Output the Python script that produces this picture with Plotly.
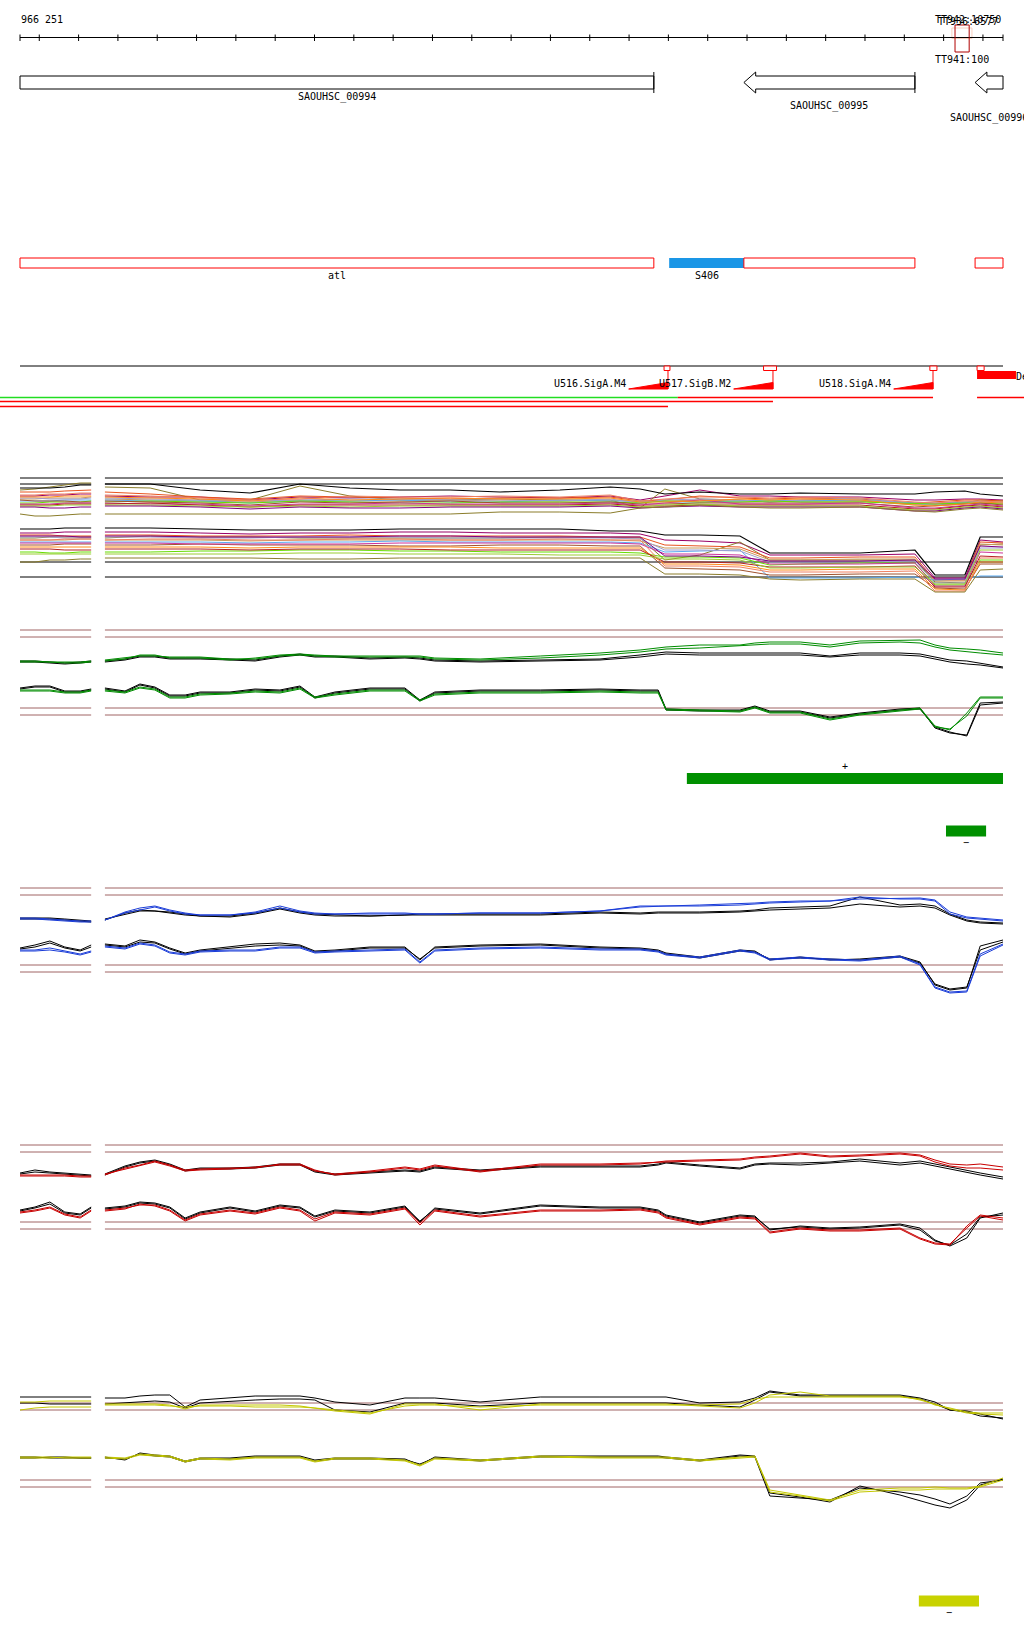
import plotly.graph_objects as go

W, H = 1024, 1640
FONT = "DejaVu Sans Mono"

# ---------------- genome window ----------------
START, END = 966251, 968751
X_LO, X_HI = 966200.135, 968804.41
RULER_LABEL = "966 251"
TICK_POS = [START] + list(range(966300, 968701, 100)) + [END]

TT_LABELS_TOP = ["TT942:10750", "TT936:6577"]
TT_LABEL_BOTTOM = "TT941:100"
TT_BOX = [968629, 968665]
TT_HALO = [968621, 968672]

GENE_NAMES = ["SAOUHSC_00994", "SAOUHSC_00995", "SAOUHSC_00996"]
GENE_START = [965480, 968092, 968680]
GENE_END = [967863, 968527, 969150]

ANNOT_NAMES = ["atl", "S406", "", ""]
ANNOT_START = [965480, 967902, 968092, 968680]
ANNOT_END = [967863, 968092, 968527, 969150]
ANNOT_KIND = ["cds", "srna", "cds", "cds"]

PROM_NAMES = ["U516.SigA.M4", "U517.SigB.M2", "U518.SigA.M4"]
PROM_POS = [967899, 968166, 968573]
PROM_BOX_START = [967889, 968142, 968565, 968685]
PROM_BOX_END = [967904, 968175, 968583, 968703]
BLOCK_NAME = "De"
BLOCK_START, BLOCK_END = 968685, 968784

TX_START = [966100, 967924, 968685, 966100, 966100]
TX_END = [967924, 968573, 969000, 968166, 967899]
TX_ROW = [0, 0, 0, 1, 2]
TX_TYPE = ["A", "B", "B", "B", "B"]

SEG_START = [967947, 968606, 968537]
SEG_END = [968751, 968708, 968690]
SEG_STRAND = ["+", "-", "-"]
SEG_PANEL = ["B", "B", "E"]

# ---------------- expression tracks ----------------
LEFT_POS = [966251, 966289, 966327, 966365, 966404, 966432]
MAIN_POS = [966467, 966518, 966556, 966594, 966632, 966671, 966709, 966785, 966849, 966912,
            966963, 967001, 967052, 967141, 967230, 967268, 967306, 967421, 967574, 967726,
            967828, 967874, 967894, 967980, 968082, 968120, 968158, 968235, 968311, 968387,
            968489, 968540, 968578, 968616, 968659, 968693, 968751]
A_POS = [966467, 966582, 966709, 966836, 966963, 967090, 967217, 967345, 967472, 967624,
         967752, 967828, 967891, 967980, 968082, 968158, 968235, 968387, 968527, 968578,
         968654, 968693, 968751]

# Panel A: many conditions (upper = + strand, lower = - strand)
A_REF = [122, 116, 38, 23]
A_UP = [
    [116,116,110,107,116,112,110,110,108,110,113,111,106,108,106,106,107,106,106,108,109,106,104],
    [104,103,103,100,103,102,103,104,103,102,104,100,104,110,104,104,103,103,100,100,101,101,100],
    [113,112,100,100,114,104,100,100,101,100,100,92,111,101,100,98,99,99,96,96,97,100,99],
    [108,106,103,101,104,103,102,101,102,102,103,99,100,104,102,101,102,101,97,98,100,100,99],
    [101,100,99,98,100,99,99,100,99,99,100,98,99,100,99,99,100,99,95,96,98,99,98],
    [100,99,99,97,99,99,100,98,98,100,99,99,98,98,99,100,99,100,97,97,98,98,97],
    [102,101,100,99,100,101,101,100,100,99,101,97,100,101,100,98,100,102,96,95,97,97,96],
    [98,99,98,97,99,98,97,97,98,98,98,97,99,98,98,99,98,98,96,96,97,97,96],
    [99,98,97,95,98,97,98,99,97,97,98,96,96,97,97,97,97,97,93,94,96,97,95],
    [97,96,96,94,96,96,97,96,96,96,97,95,97,100,96,96,96,97,92,92,95,96,94],
    [103,102,101,99,102,100,101,102,101,101,102,98,98,99,101,100,101,100,95,94,96,98,97],
    [96,97,95,93,95,95,95,95,95,95,96,94,94,95,95,95,95,95,91,91,94,95,93],
    [105,104,102,100,101,104,103,103,104,103,105,99,101,103,103,102,103,102,98,97,99,99,98],
    [95,95,94,93,94,93,94,94,94,94,95,93,95,96,94,94,94,94,90,90,93,94,92],
    [94,94,93,91,93,92,92,93,93,93,94,92,93,94,93,93,93,93,89,89,92,93,91],
    [86,86,86,86,86,86,86,86,88,88,87,92,93,95,93,92,92,93,89,88,91,92,90],
]
A_UP_LEFT = [
    [112,112,112,113,115,115], [104,104,105,105,106,106], [110,111,113,115,117,117],
    [108,108,108,109,110,110], [101,101,102,102,102,103], [99,99,99,100,100,100],
    [102,102,101,101,101,102], [97,97,98,98,98,99], [100,99,99,99,98,98],
    [96,96,96,97,97,97], [103,103,103,104,104,104], [95,95,95,96,96,96],
    [105,105,106,106,107,107], [94,94,94,95,95,95], [93,93,92,92,93,93],
    [86,84,84,85,86,86],
]
A_LO = [
    [72,72,71,70,70,70,71,71,71,71,69,69,65,65,64,47,47,47,50,25,25,63,63],
    [68,68,67,66,67,67,68,68,67,67,67,66,60,59,57,45,45,45,46,22,22,60,58],
    [62,64,63,63,62,62,62,62,62,63,62,62,40,45,58,40,40,40,40,18,17,55,56],
    [65,65,64,64,64,65,64,64,64,64,63,63,55,54,53,42,42,43,43,20,20,58,57],
    [60,60,60,59,60,60,60,60,60,60,60,59,52,52,51,40,40,41,41,19,19,56,55],
    [58,58,58,57,58,58,59,58,58,58,58,57,48,49,50,22,22,22,23,20,21,24,24],
    [63,63,62,62,63,63,63,62,62,62,62,61,50,50,49,38,38,38,39,17,17,52,52],
    [48,48,49,49,50,50,49,49,48,48,48,47,43,43,42,35,36,37,37,15,15,40,40],
    [55,55,56,55,55,55,54,54,55,55,54,54,32,31,30,25,25,26,26,12,11,36,36],
    [57,57,56,56,56,56,57,57,57,57,57,56,46,46,45,36,36,36,37,14,14,48,47],
    [53,53,53,52,53,53,53,53,52,52,52,52,36,36,35,30,30,31,31,11,10,38,38],
    [51,51,51,50,51,51,51,50,50,50,50,50,38,38,37,33,33,33,34,13,13,44,43],
    [60,61,61,60,60,61,61,60,60,61,60,60,34,34,33,28,28,28,29,9,9,42,42],
    [46,46,46,46,47,47,46,46,46,45,45,45,41,41,40,32,32,33,33,16,16,50,50],
    [64,64,63,63,63,63,64,64,63,63,63,63,44,44,43,39,39,39,40,21,21,54,53],
    [42,42,42,42,41,41,42,42,42,42,42,42,26,26,25,21,20,21,21,8,8,30,31],
]
A_LO_LEFT = [
    [71,71,71,72,72,72], [67,67,67,68,68,68], [62,62,63,63,63,63], [65,65,65,64,64,64],
    [60,60,60,60,61,61], [58,58,58,58,58,58], [63,63,63,62,62,62], [48,48,47,47,48,48],
    [55,55,55,56,56,56], [57,57,57,57,57,57], [53,53,53,53,53,53], [51,51,51,50,50,50],
    [60,60,60,61,61,61], [46,46,46,46,46,46], [64,64,64,64,63,63], [38,38,40,40,41,41],
]

# Panel B (green)
B_REF = [110, 103, 32, 25]
B_UP_K1 = [79,81,84,84,82,82,82,81,80,84, 86,84,84,82,83,82,80,79,80,81, 85,87,88,87,87,87,87,87,84,87, 87,86,83,80,79,77,73]
B_UP_K2 = [78,80,83,83,81,81,81,80,79,83, 85,83,83,81,82,81,79,78,79,80, 83,85,86,85,85,85,85,85,83,85, 85,84,81,78,76,75,72]
B_UP_C1 = [79,81,85,85,82,82,82,80,82,85, 86,85,84,84,84,84,82,81,84,87, 90,92,93,95,95,97,98,98,95,99, 100,100,95,92,91,90,87]
B_UP_C2 = [80,82,84,84,83,83,83,81,81,84, 85,84,83,83,83,83,81,80,82,85, 88,90,91,92,94,95,96,96,93,97, 98,97,93,90,88,87,85]
B_LO_K1 = [52,49,56,53,45,45,48,48,51,50, 54,43,48,52,52,40,48,50,50,51, 50,50,31,30,30,34,29,29,23,27, 31,32,12,7,5,37,38]
B_LO_K2 = [51,48,55,52,44,44,47,47,50,49, 53,42,47,51,51,39,47,49,49,50, 49,49,30,29,29,33,28,28,22,26, 30,31,13,8,4,35,37]
B_LO_C1 = [50,48,53,51,43,43,46,47,49,48, 52,43,46,50,50,40,46,48,48,49, 48,48,31,30,29,33,28,28,21,26, 30,32,14,10,27,43,43]
B_LO_C2 = [49,47,52,50,42,42,45,46,48,47, 51,42,45,49,49,39,45,47,47,48, 47,47,30,29,28,32,27,27,20,25, 29,31,13,11,24,42,42]
B_UP_K1_L = [79,79,78,77,78,79]
B_UP_K2_L = [78,78,77,76,77,78]
B_UP_C1_L = [79,79,78,77,77,78]
B_UP_C2_L = [78,78,78,78,78,79]
B_LO_K1_L = [52,54,54,49,49,51]
B_LO_K2_L = [51,53,53,48,48,50]
B_LO_C1_L = [50,50,50,48,48,50]
B_LO_C2_L = [49,49,49,47,47,49]

# Panel C (blue)
C_REF = [112, 105, 35, 28]
C_UP_C1 = [80,88,92,94,90,87,85,85,88,94, 89,87,86,86,86,86,86,87,87,89, 94,94,94,94,95,96,97,98,99,101, 102,102,100,88,83,82,80]
C_UP_C2 = [80,87,90,93,89,86,85,85,87,92, 88,86,86,87,87,86,86,87,87,89, 93,94,94,95,96,97,98,99,99,103, 101,101,99,86,82,81,79]
C_UP_K1 = [80,87,90,89,88,86,84,84,87,92, 88,86,85,84,85,86,86,86,86,88, 87,88,88,88,89,90,92,93,94,103, 95,96,94,86,80,78,77]
C_UP_K2 = [81,86,89,89,87,85,84,83,86,91, 87,85,84,84,85,85,85,85,85,87, 86,87,87,87,88,89,90,91,92,96, 93,94,92,85,79,77,76]
C_LO_K1 = [56,54,60,58,52,47,50,53,56,57, 55,49,50,53,53,40,53,55,56,53, 52,50,47,43,50,49,40,43,40,41, 44,38,15,10,12,54,60]
C_LO_K2 = [55,53,58,57,51,46,49,52,54,55, 54,48,49,52,52,41,52,54,55,52, 51,49,46,42,49,48,41,42,41,40, 43,37,16,11,13,50,58]
C_LO_C1 = [54,52,57,55,48,46,49,50,50,53, 53,48,49,50,51,38,50,52,53,51, 51,49,46,43,50,48,41,43,41,40, 44,36,13,8,9,46,56]
C_LO_C2 = [53,51,56,54,47,45,48,49,49,52, 52,47,48,49,50,37,49,51,52,50, 50,48,45,42,49,47,40,42,40,39, 43,35,12,7,8,44,55]
C_UP_K1_L = [82,82,82,81,80,79]
C_UP_K2_L = [81,81,81,80,79,78]
C_UP_C1_L = [82,82,81,80,79,79]
C_UP_C2_L = [81,81,80,79,78,78]
C_LO_K1_L = [52,55,59,53,50,55]
C_LO_K2_L = [51,53,57,52,49,53]
C_LO_C1_L = [50,50,52,49,46,49]
C_LO_C2_L = [49,49,50,48,45,48]

# Panel D (red)
D_REF = [105, 98, 28, 21]
D_UP_C1 = [75,82,85,89,85,80,81,82,82,86, 86,80,75,78,82,80,84,78,85,85, 86,88,89,90,91,93,94,97,94,95, 97,95,90,86,85,86,83]
D_UP_C2 = [76,81,84,88,84,79,80,81,83,85, 85,79,76,79,83,81,85,79,86,86, 87,88,88,89,90,92,93,96,93,94, 96,94,88,84,82,82,80]
D_UP_K1 = [76,84,88,90,86,80,82,82,83,86, 86,79,76,78,80,79,83,80,84,84, 84,86,88,85,82,86,87,87,88,91, 87,89,86,83,79,77,73]
D_UP_K2 = [75,83,87,89,85,79,81,81,82,85, 85,78,75,77,79,78,82,79,83,83, 83,85,87,84,81,85,86,85,87,89, 85,87,84,81,77,75,71]
D_LO_C1 = [40,42,45,45,40,30,36,40,37,43, 40,31,38,36,42,27,40,34,40,40, 41,38,33,26,33,32,18,22,20,20, 22,12,7,6,22,34,30]
D_LO_C2 = [39,41,46,44,39,29,35,39,36,42, 39,29,37,35,41,25,39,33,39,39, 40,37,32,25,32,31,17,21,19,19, 21,11,6,5,24,35,32]
D_LO_K1 = [42,44,48,47,43,32,38,43,39,45, 43,34,40,38,44,28,42,37,45,43, 43,40,35,28,35,34,20,24,22,23, 26,22,10,4,12,32,37]
D_LO_K2 = [41,43,47,46,42,31,37,42,38,44, 42,33,39,37,43,29,41,36,44,42, 42,39,34,27,34,33,21,23,21,22, 25,20,9,5,16,33,35]
D_UP_K1_L = [77,80,78,77,76,75]
D_UP_K2_L = [76,78,77,76,75,74]
D_UP_C1_L = [75,75,75,75,74,74]
D_UP_C2_L = [74,74,74,74,73,73]
D_LO_K1_L = [40,43,48,38,36,43]
D_LO_K2_L = [39,42,46,37,35,42]
D_LO_C1_L = [38,40,43,36,33,40]
D_LO_C2_L = [37,39,42,35,32,39]

# Panel E (yellow)
E_REF = [107, 100, 30, 23]
E_UP_K1 = [112,112,114,115,115,103,110,112,114,114, 114,112,108,105,112,112,112,108,113,113, 113,113,113,107,108,112,119,115,115,115, 115,112,108,100,99,96,91]
E_UP_K2 = [106,107,108,109,108,102,107,109,110,111, 111,110,100,98,107,107,107,104,107,107, 107,107,107,105,103,110,118,114,114,114, 114,111,106,100,98,94,92]
E_UP_C1 = [106,106,106,106,105,101,105,105,105,105, 104,102,99,96,106,106,106,100,106,106, 106,106,106,104,102,107,115,118,114,114, 114,110,106,101,97,96,95]
E_UP_C2 = [105,105,105,105,104,103,104,104,103,103, 103,102,100,97,104,105,105,103,105,105, 105,105,105,105,106,111,113,113,113,113, 113,111,105,102,98,97,97]
E_LO_C1 = [53,52,56,55,54,49,52,51,53,53, 53,49,52,52,50,45,52,50,54,53, 53,53,53,50,53,54,20,15,10,20, 22,22,23,22,22,24,32]
E_LO_C2 = [52,51,55,54,53,48,51,50,52,52, 52,48,51,51,49,44,51,49,53,52, 52,52,52,49,52,53,18,14,9,18, 20,20,21,21,21,23,30]
E_LO_K1 = [53,50,57,55,54,49,52,52,54,54, 54,50,52,52,51,45,53,50,54,54, 54,54,53,50,55,54,17,13,8,24, 15,9,5,2,10,25,31]
E_LO_K2 = [52,51,56,54,53,48,51,51,53,53, 53,49,51,51,50,46,52,49,53,53, 53,53,52,49,54,53,14,12,10,22, 18,15,11,6,14,27,30]
E_UP_K1_L = [113,113,113,113,113,113]
E_UP_K2_L = [107,107,106,106,106,106]
E_UP_C1_L = [108,108,109,109,109,109]
E_UP_C2_L = [100,102,103,103,103,103]
E_LO_K1_L = [53,53,52,52,52,52]
E_LO_K2_L = [52,52,53,53,52,52]
E_LO_C1_L = [53,53,53,52,52,52]
E_LO_C2_L = [52,52,52,53,53,53]

# ---------------- styles / layout ----------------
A_COLORS = ["#000000", "#990066", "#8b7d2b", "#e8541e", "#c89a5a", "#5aaaf0", "#9f9fcf",
            "#66dd00", "#a0522d", "#cc3399", "#ff8c1a", "#b22222", "#f08060", "#9acd32",
            "#800080", "#8b7d2b"]
PANEL_COLOR = {"B": "#008c00", "C": "#1a3cd8", "D": "#c80000", "E": "#c4c800"}
REF_COLOR = "#a06464"
PANEL_BASE = {"A": 600, "B": 740, "C": 1000, "D": 1250, "E": 1510}
PANEL_SPAN = {"A": 130, "B": 120, "C": 120, "D": 120, "E": 120}
PANEL_AXIS = {"A": "y2", "B": "y3", "C": "y4", "D": "y5", "E": "y6"}

fig = go.Figure()
axes_layout = {}
for key, ax in PANEL_AXIS.items():
    base, span = PANEL_BASE[key], PANEL_SPAN[key]
    axes_layout["yaxis" + ax[1:]] = dict(domain=[1 - base / H, 1 - (base - span) / H],
                                         range=[0, span], visible=False, anchor="x", fixedrange=True)


def line_trace(x, y, axis, color, width=1.0):
    fig.add_trace(go.Scatter(x=x, y=y, mode="lines", xaxis="x", yaxis=axis,
                             line=dict(color=color, width=width), hoverinfo="skip",
                             connectgaps=False, showlegend=False))


def series(axis, left_vals, main_pos, main_vals, color, width=1.0):
    x = list(LEFT_POS) + [None] + list(main_pos)
    y = list(left_vals) + [None] + list(main_vals)
    line_trace(x, y, axis, color, width)


def refs(axis, levels, color):
    for lv in levels:
        line_trace([LEFT_POS[0], LEFT_POS[-1], None, MAIN_POS[0], END], [lv, lv, None, lv, lv],
                   axis, color, 1.0)


# panel A
refs("y2", A_REF, "#000000")
for vals_l, vals, col in zip(A_UP_LEFT[1:], A_UP[1:], A_COLORS[1:]):
    series("y2", vals_l, A_POS, vals, col)
for vals_l, vals, col in zip(A_LO_LEFT[1:], A_LO[1:], A_COLORS[1:]):
    series("y2", vals_l, A_POS, vals, col)
series("y2", A_UP_LEFT[0], A_POS, A_UP[0], A_COLORS[0], 1.2)
series("y2", A_LO_LEFT[0], A_POS, A_LO[0], A_COLORS[0], 1.2)

PANELS = {
    "B": (B_REF, [(B_UP_C1_L, B_UP_C1), (B_UP_C2_L, B_UP_C2), (B_LO_C1_L, B_LO_C1), (B_LO_C2_L, B_LO_C2)],
          [(B_UP_K1_L, B_UP_K1), (B_UP_K2_L, B_UP_K2), (B_LO_K1_L, B_LO_K1), (B_LO_K2_L, B_LO_K2)]),
    "C": (C_REF, [(C_UP_C1_L, C_UP_C1), (C_UP_C2_L, C_UP_C2), (C_LO_C1_L, C_LO_C1), (C_LO_C2_L, C_LO_C2)],
          [(C_UP_K1_L, C_UP_K1), (C_UP_K2_L, C_UP_K2), (C_LO_K1_L, C_LO_K1), (C_LO_K2_L, C_LO_K2)]),
    "D": (D_REF, [(D_UP_C1_L, D_UP_C1), (D_UP_C2_L, D_UP_C2), (D_LO_C1_L, D_LO_C1), (D_LO_C2_L, D_LO_C2)],
          [(D_UP_K1_L, D_UP_K1), (D_UP_K2_L, D_UP_K2), (D_LO_K1_L, D_LO_K1), (D_LO_K2_L, D_LO_K2)]),
    "E": (E_REF, [(E_UP_C1_L, E_UP_C1), (E_UP_C2_L, E_UP_C2), (E_LO_C1_L, E_LO_C1), (E_LO_C2_L, E_LO_C2)],
          [(E_UP_K1_L, E_UP_K1), (E_UP_K2_L, E_UP_K2), (E_LO_K1_L, E_LO_K1), (E_LO_K2_L, E_LO_K2)]),
}
for key, (rlevels, colored, blacks) in PANELS.items():
    ax = PANEL_AXIS[key]
    refs(ax, rlevels, REF_COLOR)
    for lv, mv in blacks:
        line_trace(list(LEFT_POS) + [None] + MAIN_POS, list(lv) + [None] + list(mv), ax, "#000000", 1.0)
    for lv, mv in colored:
        line_trace(list(LEFT_POS) + [None] + MAIN_POS, list(lv) + [None] + list(mv), ax,
                   PANEL_COLOR[key], 1.0)

# ---------------- annotation area (track layout in y) ----------------
shapes = []
annots = []


def text(x, y, s, anchor="center", size=10, color="#000000"):
    annots.append(dict(x=x, y=y, xref="x", yref="y", text=s, showarrow=False,
                       xanchor=anchor, yanchor="middle",
                       font=dict(family=FONT, size=size, color=color)))


# ruler
RULER_Y = 37.5
rx, ry = [START, END, None], [RULER_Y, RULER_Y, None]
for t in TICK_POS:
    rx += [t, t, None]
    ry += [RULER_Y - 3, RULER_Y + 3.5, None]
text(START - 2, 19, RULER_LABEL, anchor="left")

# terminator markers at the top
shapes.append(dict(type="rect", xref="x", yref="y", x0=TT_HALO[0], x1=TT_HALO[1], y0=28, y1=38.5,
                   line=dict(color="#f8d0c0", width=1), fillcolor="rgba(0,0,0,0)", layer="below"))
shapes.append(dict(type="rect", xref="x", yref="y", x0=TT_BOX[0], x1=TT_BOX[1], y0=25, y1=52,
                   line=dict(color="#b00000", width=1), fillcolor="rgba(0,0,0,0)"))
text(TT_BOX[0] - 55, 19, TT_LABELS_TOP[0], anchor="left")
text(TT_BOX[0] - 48, 21, TT_LABELS_TOP[1], anchor="left")
text(TT_BOX[0] - 55, 59, TT_LABEL_BOTTOM, anchor="left")

fig.add_trace(go.Scatter(x=rx, y=ry, mode="lines", xaxis="x", yaxis="y",
                         line=dict(color="#000000", width=1), hoverinfo="skip", showlegend=False))

# genes (all on reverse strand)
HEAD_BP = 30
GENE_LABEL_Y = [97, 106, 118]
BOX_T, BOX_B, HEAD_T, HEAD_B = 76, 89, 72, 93
for name, s, e, ly in zip(GENE_NAMES, GENE_START, GENE_END, GENE_LABEL_Y):
    vs, ve = max(s, START), min(e, END)
    mid = (BOX_T + BOX_B) / 2
    if s >= START:
        h = s + HEAD_BP
        path = (f"M {s},{mid} L {h},{HEAD_T} L {h},{BOX_T} L {ve},{BOX_T} L {ve},{BOX_B} "
                f"L {h},{BOX_B} L {h},{HEAD_B} Z")
        shapes.append(dict(type="path", xref="x", yref="y", path=path,
                           line=dict(color="#000000", width=1), fillcolor="white"))
    else:
        shapes.append(dict(type="rect", xref="x", yref="y", x0=vs, x1=ve, y0=BOX_T, y1=BOX_B,
                           line=dict(color="#000000", width=1), fillcolor="white"))
    if e <= END:
        shapes.append(dict(type="line", xref="x", yref="y", x0=e, x1=e, y0=HEAD_T, y1=HEAD_B,
                           line=dict(color="#000000", width=1)))
    text((vs + ve) / 2, ly, name)

# second annotation row
ROW2_T, ROW2_B = 258, 268
for name, s, e, kind in zip(ANNOT_NAMES, ANNOT_START, ANNOT_END, ANNOT_KIND):
    vs, ve = max(s, START), min(e, END)
    if kind == "srna":
        shapes.append(dict(type="rect", xref="x", yref="y", x0=vs, x1=ve, y0=ROW2_T, y1=ROW2_B,
                           line=dict(color="#1a96e6", width=0), fillcolor="#1a96e6"))
    else:
        shapes.append(dict(type="rect", xref="x", yref="y", x0=vs, x1=ve, y0=ROW2_T, y1=ROW2_B,
                           line=dict(color="#ff0000", width=1), fillcolor="rgba(0,0,0,0)"))
    if name:
        text((vs + ve) / 2, 275, name)

# promoter row
BASE_Y = 366
shapes.append(dict(type="line", xref="x", yref="y", x0=START, x1=END, y0=BASE_Y, y1=BASE_Y,
                   line=dict(color="#000000", width=1)))
for s, e in zip(PROM_BOX_START, PROM_BOX_END):
    shapes.append(dict(type="rect", xref="x", yref="y", x0=s, x1=e, y0=BASE_Y, y1=BASE_Y + 4.5,
                       line=dict(color="#ff0000", width=1), fillcolor="white"))
for name, p in zip(PROM_NAMES, PROM_POS):
    path = f"M {p - 100},389 L {p},389 L {p},382.5 Z"
    shapes.append(dict(type="path", xref="x", yref="y", path=path,
                       line=dict(color="#ff0000", width=1), fillcolor="#ff0000"))
    shapes.append(dict(type="line", xref="x", yref="y", x0=p, x1=p, y0=BASE_Y + 4.5, y1=389,
                       line=dict(color="#ff0000", width=1)))
    text(p - 101, 383, name, anchor="right")
shapes.append(dict(type="rect", xref="x", yref="y", x0=BLOCK_START, x1=BLOCK_END, y0=371, y1=379,
                   line=dict(width=0), fillcolor="#ff0000"))
text(BLOCK_END - 4, 376, BLOCK_NAME, anchor="left")

# transcripts
TX_ROW_Y = [397.5, 401.5, 406.5]
TX_COLOR = {"A": "#22dd22", "B": "#ff0000"}
for s, e, r, t in zip(TX_START, TX_END, TX_ROW, TX_TYPE):
    shapes.append(dict(type="line", xref="x", yref="y", x0=s, x1=e, y0=TX_ROW_Y[r], y1=TX_ROW_Y[r],
                       line=dict(color=TX_COLOR[t], width=1.3)))

# segment bars under panels
SEG_COLOR = {"B": "#009000", "E": "#c8d200"}
for s, e, strand, pk in zip(SEG_START, SEG_END, SEG_STRAND, SEG_PANEL):
    base = PANEL_BASE[pk]
    top = base + 33 if strand == "+" else base + 85.5
    shapes.append(dict(type="rect", xref="x", yref="y", x0=s, x1=e, y0=top, y1=top + 11,
                       line=dict(width=0), fillcolor=SEG_COLOR[pk]))
    if strand == "+":
        text((s + e) / 2, top - 7, "+", size=10)
    else:
        text((s + e) / 2, top + 17, "\u2212", size=10)

fig.update_layout(
    width=W, height=H, autosize=False,
    margin=dict(l=0, r=0, t=0, b=0, pad=0),
    paper_bgcolor="white", plot_bgcolor="white", showlegend=False,
    xaxis=dict(range=[X_LO, X_HI], domain=[0, 1], visible=False, fixedrange=True),
    yaxis=dict(range=[H, 0], domain=[0, 1], visible=False, fixedrange=True),
    shapes=shapes, annotations=annots,
    **axes_layout,
)

fig.write_html("out.html", config={"displayModeBar": False},
               post_script="document.body.style.margin='0px';")
